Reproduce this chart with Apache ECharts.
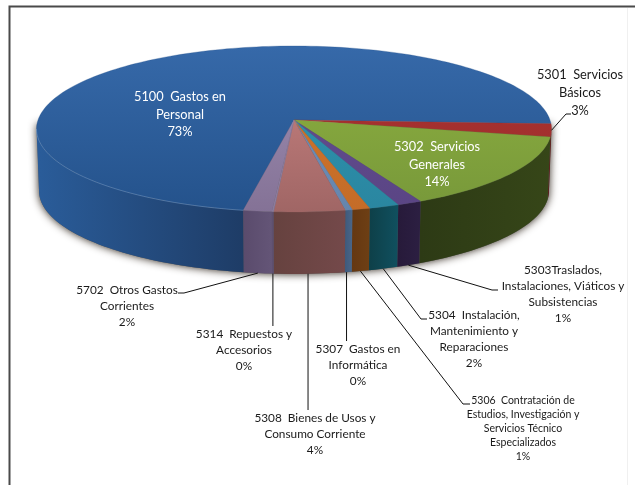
<!DOCTYPE html>
<html><head><meta charset="utf-8">
<style>html,body{margin:0;padding:0;background:#fff}#c{width:635px;height:485px}</style>
<script src="https://cdn.jsdelivr.net/npm/echarts@6/dist/echarts.min.js"></script>
</head><body><div id="c"></div>
<script>
// Data, in the chart's slice order (clockwise from the first slice)
const categories = [
  '5100  Gastos en\nPersonal',
  '5301  Servicios\nBásicos',
  '5302  Servicios\nGenerales',
  '5303Traslados,\nInstalaciones, Viáticos y\nSubsistencias',
  '5304  Instalación,\nMantenimiento y\nReparaciones',
  '5306  Contratación de\nEstudios, Investigación y\nServicios Técnico\nEspecializados',
  '5307  Gastos en\nInformática',
  '5308  Bienes de Usos y\nConsumo Corriente',
  '5314  Repuestos y\nAccesorios',
  '5702  Otros Gastos\nCorrientes'
];
const values = [72.9, 2.5, 14.4, 1.4, 1.7, 1.0, 0.4, 4.0, 0.1, 1.6];

// Styles
const topColors = [
  ['#3669a9','#24528b'],['#b03432','#972c2b'],['#8fb140','#77983a'],['#654f93','#5a4584'],
  ['#2f96b3','#2a86a0'],['#d0762c','#c46c28'],['#7095c2','#6585ad'],['#cc8584','#a06665'],
  ['#aa9abb','#8a7a9c'],['#a090b4','#847296']
];
const wallColors = [
  ['#2a5c99','#1e3c66'],['#6d1f1d','#5c1715'],['#364618','#2d3a15'],['#2c1f42','#271a3a'],
  ['#10505f','#0e4049'],['#6e3f14','#653812'],['#4a6688','#3f5a7c'],['#74494a','#66423f'],
  ['#5e4f70','#5e4f70'],['#645577','#5a4b6c']
];
const FONT = 'Lato, "Open Sans", sans-serif';

// Projection of the pie disc
const firstSliceAngle = 190.2;
const apex = {x: 294, y: 120}, R = 256, Q = 82, k = 0.108, depth = 62, floorScale = 0.99;
const sideRight = 96.2, sideLeft = 263.8; // where the rim turns out of sight
const project = (deg, low) => {
  const t = deg * Math.PI / 180, u = Math.sin(t), v = Math.cos(t), d = 1 + k * v;
  const s = low ? floorScale : 1;
  return [apex.x + s * R * u / d, apex.y - Q * v / d + (low ? depth : 0)];
};
const total = values.reduce((a, b) => a + b, 0);
const spans = [];
values.reduce((start, val) => { const end = start + val / total * 360; spans.push([start, end]); return end; }, firstSliceAngle);
const arc = (a, b, low) => {
  const pts = [], n = Math.max(2, Math.ceil(Math.abs(b - a) / 1.5));
  for (let i = 0; i <= n; i++) pts.push(project(a + (b - a) * i / n, low));
  return pts;
};
const grad = (x0, y0, x1, y1, c) => new echarts.graphic.LinearGradient(x0, y0, x1, y1, [{offset: 0, color: c[0]}, {offset: 1, color: c[1]}], true);

// Label and leader layout, parallel to categories
const labelLayout = [
  {x: 180, y: 97,  lh: 17.5, size: 12.8, fill: '#ffffff'},
  {x: 580, y: 75,  lh: 18,   size: 12.8, fill: '#1a1a1a', bend: [[566,114],[571,114]], fromTop: true},
  {x: 437, y: 147, lh: 17.5, size: 12.8, fill: '#ffffff'},
  {x: 563, y: 270, lh: 16,   size: 11.8, fill: '#1a1a1a', bend: [[492,290],[498,290]]},
  {x: 474, y: 315, lh: 16,   size: 11.8, fill: '#1a1a1a', bend: [[421,319],[427,319]]},
  {x: 523, y: 401, lh: 14,   size: 10.5, fill: '#1a1a1a', bend: [[463,404],[470,404]]},
  {x: 358, y: 349, lh: 16,   size: 11.8, fill: '#1a1a1a', drop: 341, at: 0.75},
  {x: 315, y: 418, lh: 16,   size: 11.8, fill: '#1a1a1a', drop: 410, at: 0.52},
  {x: 244, y: 334, lh: 16,   size: 11.8, fill: '#1a1a1a', drop: 326},
  {x: 127, y: 290, lh: 16,   size: 11.8, fill: '#1a1a1a', bend: [[184,293],[178,293]]}
];

const items = values.map((v, i) => i);

function renderWall(params) {
  const i = params.dataIndex, children = [];
  let [a, b] = spans[i];
  if (a >= 360) { a -= 360; b -= 360; }
  if (i === 0) {
    children.push({type: 'polygon',
      shape: {points: arc(sideRight, sideLeft, true).concat([project(sideLeft + 3, false), project(sideRight - 3, false)])},
      style: {fill: '#555', shadowColor: 'rgba(40,30,20,1)', shadowBlur: 8}});
  }
  a = Math.max(a, sideRight); b = Math.min(b, sideLeft);
  const pts = arc(a, b, false).concat(arc(a, b, true).reverse());
  children.push({type: 'polygon', shape: {points: pts},
    style: {fill: grad(i === 0 ? 245 : project(a)[0], 0, i === 0 ? 40 : project(b)[0], 0,
      i === 0 ? [wallColors[0][1], wallColors[0][0]] : wallColors[i])}});
  return {type: 'group', children};
}
function renderTop(params) {
  const i = params.dataIndex, [a, b] = spans[i];
  const edge = arc(a, b, false);
  const ra = Math.max(a, sideRight), rb = Math.min(b, sideLeft);
  return {type: 'group', children: [
    {type: 'polygon', shape: {points: [[apex.x, apex.y]].concat(edge)},
      style: {fill: grad(0, 46, 0, 212, topColors[i]), stroke: topColors[i][1], lineWidth: 0.3}},
    {type: 'polyline', shape: {points: arc(ra, Math.max(ra, rb), false)},
      invisible: rb <= ra,
      style: {fill: 'none', stroke: 'rgba(150,190,235,0.35)', lineWidth: 1}}
  ]};
}
function renderLabel(params) {
  const i = params.dataIndex, L = labelLayout[i], [a, b] = spans[i];
  const start = project(a + (b - a) * (L.at === undefined ? 0.5 : L.at), !L.fromTop);
  const children = [];
  const way = L.drop ? [[start[0], L.drop]] : L.bend;
  if (way) {
    children.push({type: 'polyline', shape: {points: [start].concat(way)},
      style: {fill: 'none', stroke: '#111', lineWidth: 1}});
  }
  children.push({type: 'text', style: {
    text: categories[i] + '\n' + Math.round(values[i] / total * 100) + '%',
    x: L.x, y: L.y - L.lh / 2, align: 'center', verticalAlign: 'top',
    lineHeight: L.lh, fill: L.fill, font: L.size + 'px ' + FONT}});
  return {type: 'group', children};
}

const chart = echarts.init(document.getElementById('c'), null, {renderer: 'canvas'});
chart.setOption({
  animation: false,
  backgroundColor: '#ffffff',
  graphic: [
    {type: 'polyline', z: 0, shape: {points: [[9.5,485],[9.5,6.5],[635,6.5]]}, style: {fill: 'none', stroke: '#4a4a4a', lineWidth: 2}},
    {type: 'line', z: 0, shape: {x1: 627.5, y1: 8, x2: 627.5, y2: 485}, style: {stroke: '#f0f0f0', lineWidth: 1}}
  ],
  series: [
    {type: 'custom', coordinateSystem: 'none', z: 1, data: items, renderItem: renderWall, silent: true},
    {type: 'custom', coordinateSystem: 'none', z: 2, data: items, renderItem: renderTop, silent: true},
    {type: 'custom', coordinateSystem: 'none', z: 3, data: items, renderItem: renderLabel, silent: true}
  ]
});
</script></body></html>
